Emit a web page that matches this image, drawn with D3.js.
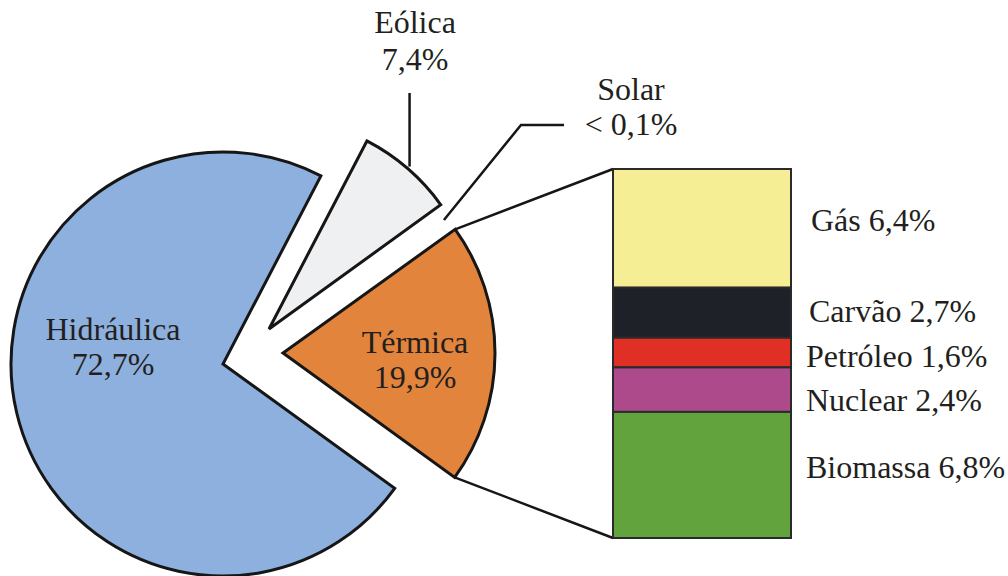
<!DOCTYPE html>
<html>
<head>
<meta charset="utf-8">
<script src="https://cdn.jsdelivr.net/npm/d3@7"></script>
<style>
  html, body { margin: 0; padding: 0; background: #fff; }
  svg text { font-family: "Liberation Serif", "Times New Roman", serif; fill: #231F20; }
</style>
</head>
<body>
<svg id="chart" width="1008" height="576"></svg>
<script>
// ---- data ----
const pieCategories = ["Eólica", "Solar", "Térmica", "Hidráulica"];
const pieValues     = [7.4, 0.05, 19.9, 72.7];
const pieLabels     = ["7,4%", "< 0,1%", "19,9%", "72,7%"];

const barCategories = ["Gás", "Carvão", "Petróleo", "Nuclear", "Biomassa"];
const barValues     = [6.4, 2.7, 1.6, 2.4, 6.8];
const barLabels     = ["6,4%", "2,7%", "1,6%", "2,4%", "6,8%"];

// ---- styles / layout ----
const pieColors = {"Eólica": "#EFF0F2", "Solar": "#F6D21E", "Térmica": "#E2843B", "Hidráulica": "#8EB0DE"};
const barColors = ["#F6EE94", "#1E2127", "#E03026", "#AC4A8C", "#63A33D"];
const sliceCenters = {"Eólica": [269, 329], "Solar": [276, 341], "Térmica": [283, 353], "Hidráulica": [223, 364]};
const labelNudge = [-8, -1, 4, 11, -8];
const labelX = [811, 809, 806, 806, 806];
const R = 212;
const fs = 32;

const svg = d3.select("#chart");
const deg = Math.PI / 180;

const pie = d3.pie().sort(null).value(d => d.v)
  .startAngle(27.5 * deg).endAngle(27.5 * deg + 2 * Math.PI);
const arcs = pie(pieCategories.map((c, i) => ({c, v: pieValues[i], l: pieLabels[i]})));
const arcGen = d3.arc().innerRadius(0).outerRadius(R);

const byName = {};
arcs.forEach(a => byName[a.data.c] = a);

// slices (solar is too thin to draw)
arcs.filter(a => a.data.c !== "Solar").forEach(a => {
  const [cx, cy] = sliceCenters[a.data.c];
  svg.append("path")
    .attr("transform", `translate(${cx},${cy})`)
    .attr("d", arcGen(a))
    .attr("fill", pieColors[a.data.c])
    .attr("stroke", "#161616")
    .attr("stroke-width", 3)
    .attr("stroke-linejoin", "miter");
});

function pt(center, ang, r) {
  return [center[0] + r * Math.sin(ang), center[1] - r * Math.cos(ang)];
}

// ---- bar (Térmica breakdown) ----
const bx0 = 613, bx1 = 791, by0 = 169, by1 = 538;
const total = d3.sum(barValues);
const y = d3.scaleLinear().domain([0, total]).range([by0, by1]);
const stack = [];
let acc = 0;
barValues.forEach((v, i) => { stack.push({i, y0: acc, y1: acc + v}); acc += v; });

// connector lines from Térmica slice to bar
const ter = byName["Térmica"];
const tc = sliceCenters["Térmica"];
const pTop = pt(tc, ter.startAngle, R);
const pBot = pt(tc, ter.endAngle, R);
svg.append("path")
  .attr("d", `M${pTop[0]},${pTop[1]}L${bx0},${y(0)}M${pBot[0]},${pBot[1]}L${bx0},${y(total)}`)
  .attr("fill", "none").attr("stroke", "#161616").attr("stroke-width", 2.5);

svg.selectAll("rect.seg").data(stack).join("rect")
  .attr("class", "seg")
  .attr("x", bx0).attr("width", bx1 - bx0)
  .attr("y", d => y(d.y0)).attr("height", d => y(d.y1) - y(d.y0))
  .attr("fill", d => barColors[d.i])
  .attr("stroke", "#2a2a2a").attr("stroke-width", 2);

svg.selectAll("text.seg").data(stack).join("text")
  .attr("class", "seg")
  .attr("x", d => labelX[d.i])
  .attr("y", d => (y(d.y0) + y(d.y1)) / 2 + labelNudge[d.i] + fs * 0.33)
  .attr("font-size", fs)
  .text(d => barCategories[d.i] + " " + barLabels[d.i]);

// ---- leader lines ----
const eo = byName["Eólica"];
const ec = sliceCenters["Eólica"];
const eMid = pt(ec, (eo.startAngle + eo.endAngle) / 2, R);
svg.append("path")
  .attr("d", `M${eMid[0] + 2},${eMid[1] - 2}L${eMid[0] + 2},93`)
  .attr("fill", "none").attr("stroke", "#161616").attr("stroke-width", 2.5);

const so = byName["Solar"];
const sc = sliceCenters["Solar"];
const sP = pt(sc, (so.startAngle + so.endAngle) / 2, R - 5);
svg.append("path")
  .attr("d", `M${sP[0]},${sP[1]}L521,125L564,125`)
  .attr("fill", "none").attr("stroke", "#161616").attr("stroke-width", 2.5);

// ---- pie labels ----
function twoLine(x, y1, y2, a, b) {
  svg.append("text").attr("x", x).attr("y", y1).attr("text-anchor", "middle").attr("font-size", fs).text(a);
  svg.append("text").attr("x", x).attr("y", y2).attr("text-anchor", "middle").attr("font-size", fs).text(b);
}
twoLine(113, 340, 375, "Hidráulica", byName["Hidráulica"].data.l);
twoLine(415, 353, 388, "Térmica", ter.data.l);
twoLine(415, 33, 70, "Eólica", eo.data.l);
twoLine(631, 100, 135, "Solar", so.data.l);
</script>
</body>
</html>
